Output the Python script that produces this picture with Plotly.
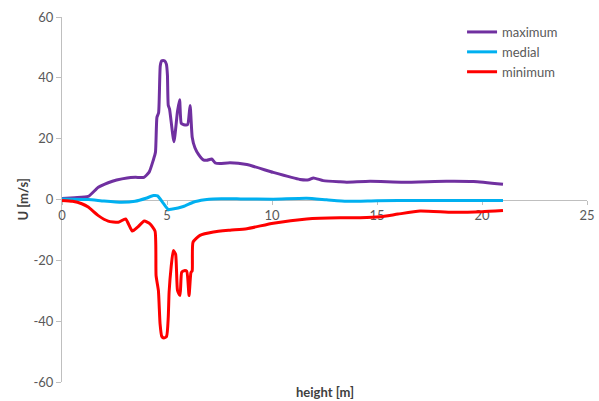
import plotly.graph_objects as go

# ---- data ----
max_x = [0, 0.6, 1.25, 1.73, 2.2, 2.6, 3.1, 3.5, 3.9, 4.15, 4.35, 4.45, 4.52, 4.6, 4.68, 4.75, 4.88, 4.97, 5.02, 5.06, 5.12,
         5.33, 5.5, 5.6, 5.68, 5.8, 5.98, 6.1, 6.2, 6.33, 6.5, 6.73, 6.9, 7.13, 7.3, 7.52, 8.0, 8.8, 10.06, 11.33,
         11.75, 11.97, 12.44, 13.24, 13.56, 14.67, 16.25, 18.3, 19.6, 21.0]
max_y = [0.3, 0.6, 1.0, 4.0, 5.5, 6.4, 7.1, 7.3, 7.3, 9.0, 13.0, 15.5, 27.0, 28.5, 44.0, 45.6, 45.6, 44.5, 41.0, 31.0, 29.8,
         19.0, 29.0, 32.8, 25.0, 24.6, 24.6, 30.9, 20.5, 17.0, 14.8, 13.0, 12.9, 13.3, 12.0, 11.8, 12.1, 11.5, 8.9, 6.6,
         6.5, 7.1, 6.2, 5.8, 5.7, 6.0, 5.7, 6.0, 5.9, 5.0]

med_x = [0, 1.25, 2.0, 2.84, 3.48, 4.0, 4.35, 4.55, 4.82, 5.06, 5.2, 5.78, 6.25, 6.8, 7.2, 8.5, 10.05, 11.65, 12.6, 13.56, 15.0, 17.0, 19.0, 21.0]
med_y = [0.2, 0.0, -0.5, -0.9, -0.6, 0.4, 1.3, 1.2, -1.2, -3.3, -3.2, -2.3, -0.9, -0.1, 0.2, 0.2, 0.1, 0.4, -0.1, -0.6, -0.4, -0.3, -0.3, -0.3]

min_x = [0, 0.5, 0.94, 1.25, 1.73, 2.2, 2.68, 3.03, 3.35, 3.6, 3.92, 4.19, 4.43, 4.48, 4.59, 4.67, 4.75, 4.85, 4.98, 5.06,
         5.1, 5.2, 5.3, 5.41, 5.5, 5.62, 5.7, 5.82, 5.94, 6.05, 6.14, 6.2, 6.24, 6.57, 7.21, 8.0, 8.8, 10.06, 11.65,
         13.24, 14.2, 15.14, 16.0, 17.05, 18.6, 20.0, 21.0]
min_y = [-0.3, -0.6, -1.4, -2.5, -5.3, -7.1, -7.5, -6.4, -10.4, -9.1, -7.1, -8.0, -10.4, -25.0, -29.9, -40.9, -45.0, -45.5, -45.0, -38.7,
         -30.5, -22.0, -16.8, -18.0, -29.9, -31.6, -23.9, -23.4, -23.6, -31.6, -24.0, -23.4, -14.0, -11.8, -10.7, -10.1, -9.6, -7.8, -6.4,
         -6.0, -6.0, -5.7, -4.8, -3.8, -4.2, -4.0, -3.6]

series_names = ["maximum", "medial", "minimum"]
series_colors = ["#7030A0", "#00B0F0", "#FF0000"]

x_ticks = [0, 5, 10, 15, 20, 25]
y_ticks = [-60, -40, -20, 0, 20, 40, 60]

FONT = "Lato, 'Open Sans', sans-serif"
GRAY = "#595959"
AXIS = "#BFBFBF"

fig = go.Figure()
for xs, ys, name, col in zip([max_x, med_x, min_x], [max_y, med_y, min_y], series_names, series_colors):
    fig.add_trace(go.Scatter(x=xs, y=ys, name=name, mode="lines",
                             line=dict(color=col, width=3, shape="spline", smoothing=0.5)))

fig.update_layout(
    width=599, height=401,
    margin=dict(l=62, r=12, t=17, b=19, autoexpand=False),
    paper_bgcolor="white", plot_bgcolor="white",
    font=dict(family=FONT, size=13, color=GRAY),
    showlegend=True,
    legend=dict(x=0.762, y=1.0, xanchor="left", yanchor="top",
                bgcolor="rgba(0,0,0,0)", font=dict(size=13, color=GRAY),
                tracegroupgap=0, itemwidth=30),
    xaxis=dict(range=[0, 25], tickvals=x_ticks, ticktext=[str(v) for v in x_ticks],
               showgrid=False, zeroline=False, showline=True, linecolor=AXIS, linewidth=1,
               ticks="outside", ticklen=4, tickcolor=AXIS, automargin=False, layer="below traces",
               anchor="free", position=0.5, tickfont=dict(size=13, color=GRAY)),
    yaxis=dict(range=[-60, 60], tickvals=y_ticks, ticktext=[str(v) for v in y_ticks],
               showgrid=False, zeroline=False, showline=True, linecolor=AXIS, linewidth=1,
               ticks="outside", ticklen=5, tickcolor=AXIS, automargin=False, layer="below traces",
               tickfont=dict(size=13, color=GRAY)),
    annotations=[
        dict(text="<b>height [m]</b>", xref="paper", yref="paper", x=0.5, y=0, yshift=-10,
             showarrow=False, font=dict(size=13, color="#404040"), xanchor="center", yanchor="middle"),
        dict(text="<b>U [m/s]</b>", xref="paper", yref="paper", x=0, y=0.5, xshift=-40,
             showarrow=False, textangle=-90, font=dict(size=13, color="#404040"), xanchor="center", yanchor="middle"),
    ],
)

fig.write_html("out.html")
